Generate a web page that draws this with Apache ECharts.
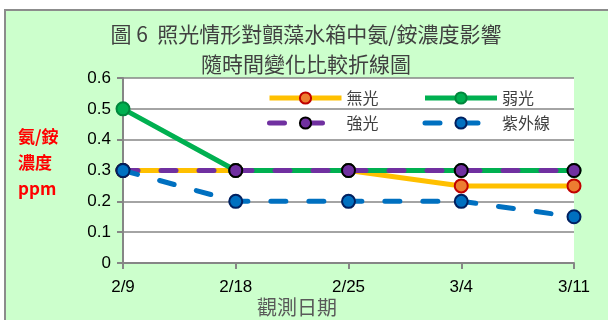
<!DOCTYPE html>
<html>
<head>
<meta charset="utf-8">
<script src="https://cdn.jsdelivr.net/npm/echarts@6/dist/echarts.min.js"></script>
<style>
  html, body { margin: 0; padding: 0; background: #fff; }
  #chart { width: 608px; height: 320px; }
</style>
</head>
<body>
<div id="chart"></div>
<script>
var dates = ["2/9", "2/18", "2/25", "3/4", "3/11"];
var noLight = [0.3, 0.3, 0.3, 0.25, 0.25];
var weakLight = [0.5, 0.3, 0.3, 0.3, 0.3];
var strongLight = [0.3, 0.3, 0.3, 0.3, 0.3];
var uvLight = [0.3, 0.2, 0.2, 0.2, 0.15];

var font = "'Liberation Sans', 'Noto Sans CJK TC', sans-serif";
var cjk = "'Noto Sans CJK TC', sans-serif";

var myChart = echarts.init(document.getElementById("chart"));

var legendStyle = {
  itemWidth: 72,
  itemHeight: 14,
  itemGap: 44,
  lineStyle: { width: 5 },
  textStyle: { fontFamily: cjk, fontSize: 16, color: "#404040" }
};

var option = {
  animation: false,
  graphic: [
    {
      type: "rect",
      z: -10,
      shape: { x: 5, y: 10, width: 620, height: 330 },
      style: { fill: "#ccffcc", stroke: "#8c8c8c", lineWidth: 2 }
    },
    {
      type: "text",
      left: 18,
      top: 124,
      style: {
        text: "氨/銨\n濃度\nppm",
        font: "bold 17px " + cjk,
        fill: "#ff0000",
        align: "center",
        lineHeight: 26
      }
    },
    {
      type: "text",
      left: 257,
      top: 297,
      style: {
        text: "觀測日期",
        font: "20px " + cjk,
        fill: "#595959"
      }
    }
  ],
  title: {
    text: "圖 6  照光情形對顫藻水箱中氨/銨濃度影響\n隨時間變化比較折線圖",
    left: 301,
    top: 14,
    textAlign: "center",
    textStyle: {
      fontFamily: cjk,
      fontSize: 21,
      fontWeight: "normal",
      color: "#404040",
      lineHeight: 30
    }
  },
  legend: [
    Object.assign({ data: ["無光", "弱光"], left: 262, top: 85 }, legendStyle),
    Object.assign({ data: ["強光", "紫外線"], left: 262, top: 110 }, legendStyle)
  ],
  grid: {
    left: 123,
    right: 34,
    top: 78,
    bottom: 57,
    show: true,
    backgroundColor: "#ffffff",
    borderWidth: 0
  },
  xAxis: {
    type: "category",
    data: dates,
    boundaryGap: false,
    axisLine: { lineStyle: { color: "#868686", width: 2 } },
    axisTick: { length: 6, lineStyle: { color: "#868686", width: 2 } },
    axisLabel: { fontFamily: font, fontSize: 17, color: "#000", margin: 16 }
  },
  yAxis: {
    type: "value",
    min: 0,
    max: 0.6,
    interval: 0.1,
    axisLine: { show: true, lineStyle: { color: "#868686", width: 2 } },
    axisTick: { show: true, length: 6, lineStyle: { color: "#868686", width: 2 } },
    axisLabel: { fontFamily: font, fontSize: 17, color: "#000", margin: 12 },
    splitLine: { lineStyle: { color: "#868686", width: 1.5 } }
  },
  series: [
    {
      name: "無光",
      type: "line",
      data: noLight,
      symbol: "circle",
      symbolSize: 13,
      z: 2,
      lineStyle: { color: "#ffc000", width: 5 },
      itemStyle: { color: "#ed7d31", borderColor: "#c00000", borderWidth: 2 }
    },
    {
      name: "弱光",
      type: "line",
      data: weakLight,
      symbol: "circle",
      symbolSize: 13,
      z: 3,
      lineStyle: { color: "#00b050", width: 5 },
      itemStyle: { color: "#00b050", borderColor: "#00873c", borderWidth: 2 }
    },
    {
      name: "強光",
      type: "line",
      data: strongLight,
      symbol: "circle",
      symbolSize: 13,
      z: 4,
      lineStyle: { color: "#7030a0", width: 5, type: [15, 23], cap: "round" },
      itemStyle: { color: "#7030a0", borderColor: "#000000", borderWidth: 2 }
    },
    {
      name: "紫外線",
      type: "line",
      data: uvLight,
      symbol: "circle",
      symbolSize: 13,
      z: 5,
      lineStyle: { color: "#0070c0", width: 5, type: [15, 23], cap: "round" },
      itemStyle: { color: "#0070c0", borderColor: "#002060", borderWidth: 2 }
    }
  ]
};

option && myChart.setOption(option);
</script>
</body>
</html>
